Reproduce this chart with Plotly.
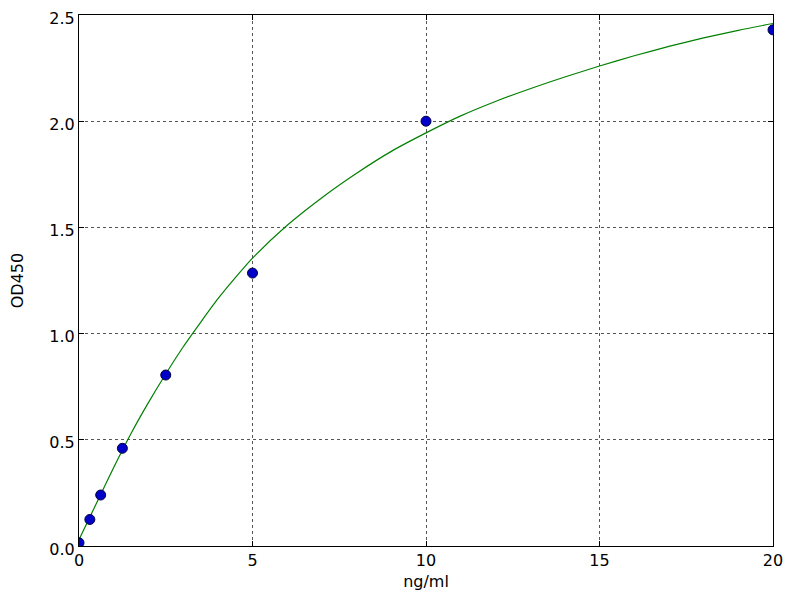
import plotly.graph_objects as go

# standards (ng/ml) and measured OD450
conc = [0, 0.3125, 0.625, 1.25, 2.5, 5, 10, 20]
od450 = [0.015, 0.125, 0.24, 0.46, 0.805, 1.285, 2.0, 2.43]

# fitted curve
fit_x = [0, 0.5, 1, 1.5, 2, 2.5, 3, 3.5, 4, 4.5, 5, 6, 7, 8, 9, 10,
         11, 12, 13, 14, 15, 16, 17, 18, 19, 20]
fit_y = [0.03, 0.2, 0.37, 0.53, 0.675, 0.81, 0.937, 1.052, 1.163, 1.262, 1.355,
         1.51, 1.64, 1.755, 1.858, 1.945, 2.025, 2.093, 2.153, 2.208, 2.26,
         2.308, 2.352, 2.392, 2.428, 2.46]

x_ticks = [0, 5, 10, 15, 20]
y_ticks = [0.0, 0.5, 1.0, 1.5, 2.0, 2.5]

fig = go.Figure()

fig.add_trace(go.Scatter(
    x=fit_x, y=fit_y,
    mode="lines",
    line=dict(color="#008000", width=1.2, shape="spline", smoothing=0.6),
    hoverinfo="skip",
))

fig.add_trace(go.Scatter(
    x=conc, y=od450,
    mode="markers",
    marker=dict(color="#0000c8", size=10, line=dict(color="#000040", width=1)),
))

font = dict(family="DejaVu Sans", size=16, color="black")

axis_style = dict(
    showline=True,
    linecolor="black",
    linewidth=1.2,
    mirror="allticks",
    ticks="inside",
    ticklen=5,
    tickcolor="black",
    showgrid=True,
    gridcolor="#555555",
    griddash="dot",
    gridwidth=1,
    zeroline=False,
    ticklabeloverflow="allow",
    automargin=False,
    tickfont=font,
)

fig.update_xaxes(
    range=[0, 20],
    tickvals=x_ticks,
    ticktext=[str(v) for v in x_ticks],
    title=dict(text="ng/ml", font=font, standoff=6),
    **axis_style,
)
fig.update_yaxes(
    range=[0, 2.5],
    tickvals=y_ticks,
    ticktext=[f"{v:.1f}" for v in y_ticks],
    ticklabelshift=3,
    title=dict(text="OD450", font=font, standoff=22),
    **axis_style,
)

# page body adds an 8px offset, margins compensate for it
fig.update_layout(
    width=800,
    height=600,
    showlegend=False,
    plot_bgcolor="white",
    paper_bgcolor="white",
    margin=dict(l=71, r=35, t=7, b=62),
)

fig.write_html("out.html")
